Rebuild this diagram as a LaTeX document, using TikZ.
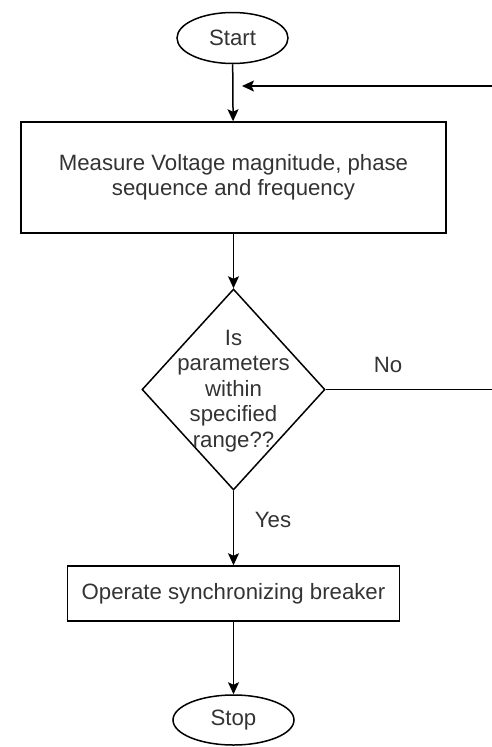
\documentclass[tikz,border=0pt]{standalone}
\usepackage{fontspec}
\setmainfont{Liberation Sans}
\usetikzlibrary{shapes.geometric,arrows.meta}
\definecolor{txt}{HTML}{333333}
\begin{document}
\begin{tikzpicture}[x=1pt,y=-1pt,
  every node/.style={font=\fontsize{22.2pt}{25.5pt}\selectfont, text=txt},
  term/.style={draw=black, line width=1.5pt, ellipse, inner sep=0pt},
  procbox/.style={draw=black, line width=1.5pt, rectangle, inner sep=0pt, align=center},
  decbox/.style={draw=black, line width=1.5pt, diamond, inner sep=0pt, minimum width=183pt, minimum height=201pt, aspect=0.91},
  conn/.style={draw=black, line width=1.5pt},
  arr/.style={conn, -{Stealth[length=12pt,width=11pt,inset=2.5pt]}}]
\useasboundingbox (0,0) rectangle (492,747);
\node[term, minimum width=111pt, minimum height=51pt] (start) at (232.5,38) {Start};
\node[procbox, minimum width=425pt, minimum height=111pt] (meas) at (233.5,177.5) {Measure Voltage magnitude, phase\\sequence and frequency};
\node[decbox] (dec) at (233.5,389.5) {};
\node[align=center, inner sep=0pt] (dectext) at (233.5,391) {Is\\parameters\\within\\specified\\range??};
\node[procbox, minimum width=332pt, minimum height=55pt] (op) at (233.5,593.5) {Operate synchronizing breaker};
\node[term, minimum width=121pt, minimum height=50pt] (stop) at (233.5,720) {Stop};
\node (no) at (388,365) {No};
\node (yes) at (273,520) {Yes};
\coordinate (fbend) at (242,86);
\draw[arr] (start) -- (meas);
\draw[arr] (meas) -- (dec);
\draw[arr] (dec.south) -- (op);
\draw[arr] (op) -- (stop);
\draw[arr] (dec.east) -- (505,389.5) |- (fbend);
\end{tikzpicture}
\end{document}
